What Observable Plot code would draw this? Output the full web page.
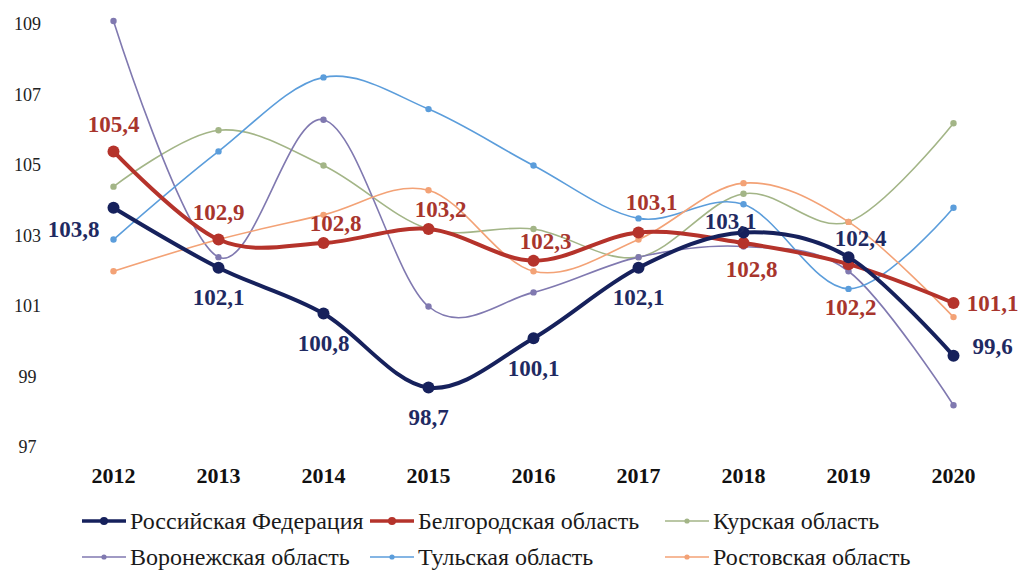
<!DOCTYPE html>
<html><head><meta charset="utf-8">
<script src="https://cdn.jsdelivr.net/npm/d3@7"></script>
<script src="https://cdn.jsdelivr.net/npm/@observablehq/plot@0.6"></script>
<style>
body{margin:0;background:#fff;font-family:"Liberation Serif","DejaVu Serif",serif;}
#legend{position:relative;height:75px;width:1020px;}
.item{position:absolute;font-family:"Liberation Serif","DejaVu Serif",serif;font-size:24px;color:#1a1a1a;white-space:nowrap;transform:translateY(-50%);line-height:28px;}
.item svg{position:absolute;top:7px;}
</style></head><body><div id="chart"></div><div id="legend"></div>
<script>
const years = [2012, 2013, 2014, 2015, 2016, 2017, 2018, 2019, 2020];
const seriesNames = ["Российская Федерация", "Белгородская область", "Курская область", "Воронежская область", "Тульская область", "Ростовская область"];
const russia   = [103.8, 102.1, 100.8, 98.7, 100.1, 102.1, 103.1, 102.4, 99.6];
const belgorod = [105.4, 102.9, 102.8, 103.2, 102.3, 103.1, 102.8, 102.2, 101.1];
const kursk    = [104.4, 106.0, 105.0, 103.2, 103.2, 102.4, 104.2, 103.4, 106.2];
const voronezh = [109.1, 102.4, 106.3, 101.0, 101.4, 102.4, 102.7, 102.0, 98.2];
const tula     = [102.9, 105.4, 107.5, 106.6, 105.0, 103.5, 103.9, 101.5, 103.8];
const rostov   = [102.0, 102.9, 103.6, 104.3, 102.0, 102.9, 104.5, 103.4, 100.7];
const yTicks = [97, 99, 101, 103, 105, 107, 109];
// label placement keywords (per year) for the two labelled series
const russiaPlace   = ["leftBelow", "below", "below", "below", "below", "below", "aboveLeft", "aboveRight", "right"];
const belgorodPlace = ["above", "above", "aboveRight", "aboveRight", "aboveRight", "aboveRight2", "belowRight", "belowFar", "right"];

const colors = ["#16215c", "#b5332b", "#a3b587", "#8079b0", "#5b9ddb", "#f3a276"];
const allValues = [russia, belgorod, kursk, voronezh, tula, rostov];

const rows = [];
allValues.forEach((vals, i) => vals.forEach((v, j) => rows.push({series: seriesNames[i], year: years[j], value: v})));
const thinRows = rows.filter(d => d.series !== seriesNames[0] && d.series !== seriesNames[1]);
const rfRows = rows.filter(d => d.series === seriesNames[0]);
const bgRows = rows.filter(d => d.series === seriesNames[1]);

const offsets = {
  leftBelow: [-40, 22], below: [0, 30], aboveLeft: [-13, -11], aboveRight: [12, -19],
  right: [39, -9], above: [0, -27], aboveRight2: [13, -30], belowRight: [8, 27], belowFar: [2, 43]
};
const fmt = v => v.toFixed(1).replace(".", ",");
function labelMarks(data, places, color, rightDy) {
  return data.map((d, i) => {
    const [dx, dy] = offsets[places[i]];
    return Plot.text([d], {x: "year", y: "value", text: d => fmt(d.value), dx, dy: places[i] === "right" ? rightDy : dy,
      fill: color, fontSize: 23, fontWeight: "bold", fontFamily: "Liberation Serif", textAnchor: "middle"});
  });
}

const chart = Plot.plot({
  width: 1020, height: 495,
  marginLeft: 111, marginRight: 66, marginTop: 24, marginBottom: 48,
  style: {fontFamily: "Liberation Serif", background: "#fff"},
  x: {type: "point", domain: years, padding: 0},
  y: {domain: [97, 109]},
  color: {domain: seriesNames, range: colors},
  marks: [
    Plot.axisY({ticks: yTicks, tickSize: 0, tickPadding: 84, textAnchor: "middle", fontSize: 18, fontFamily: "Liberation Serif", fill: "#222", label: null}),
    Plot.axisX({tickSize: 0, tickPadding: 20, fontSize: 22, fontWeight: "bold", fontFamily: "Liberation Serif", fill: "#111", tickFormat: d => String(d), label: null}),
    Plot.line(thinRows, {x: "year", y: "value", z: "series", stroke: "series", strokeWidth: 1.6, curve: "cardinal", tension: 0}),
    Plot.dot(thinRows, {x: "year", y: "value", fill: "series", r: 3.2}),
    Plot.line(bgRows, {x: "year", y: "value", stroke: colors[1], strokeWidth: 4, curve: "cardinal", tension: 0}),
    Plot.dot(bgRows, {x: "year", y: "value", fill: colors[1], r: 6}),
    Plot.line(rfRows, {x: "year", y: "value", stroke: colors[0], strokeWidth: 4, curve: "cardinal", tension: 0}),
    Plot.dot(rfRows, {x: "year", y: "value", fill: colors[0], r: 6}),
    ...labelMarks(rfRows, russiaPlace, "#1f2a62", -9),
    ...labelMarks(bgRows, belgorodPlace, "#a8352d", 1)
  ]
});
document.getElementById("chart").appendChild(chart);

// legend
const legend = document.getElementById("legend");
const sampleX = [82, 370, 665];
const textX = [130, 418, 713];
const rowsY = [26, 62];
seriesNames.forEach((name, i) => {
  const thick = i < 2;
  const c = i % 3;
  const item = document.createElement("div");
  item.className = "item";
  item.style.left = sampleX[c] + "px";
  item.style.top = rowsY[Math.floor(i / 3)] + "px";
  const w = textX[c] - sampleX[c] - 4;
  item.innerHTML = `<svg width="${w}" height="14" style="left:0"><line x1="0" x2="${w}" y1="7" y2="7" stroke="${colors[i]}" stroke-width="${thick ? 3.5 : 1.6}"/><circle cx="${w/2}" cy="7" r="${thick ? 4 : 2.6}" fill="${colors[i]}"/></svg><span style="margin-left:${textX[c] - sampleX[c]}px">${name}</span>`;
  legend.appendChild(item);
});
</script></body></html>
